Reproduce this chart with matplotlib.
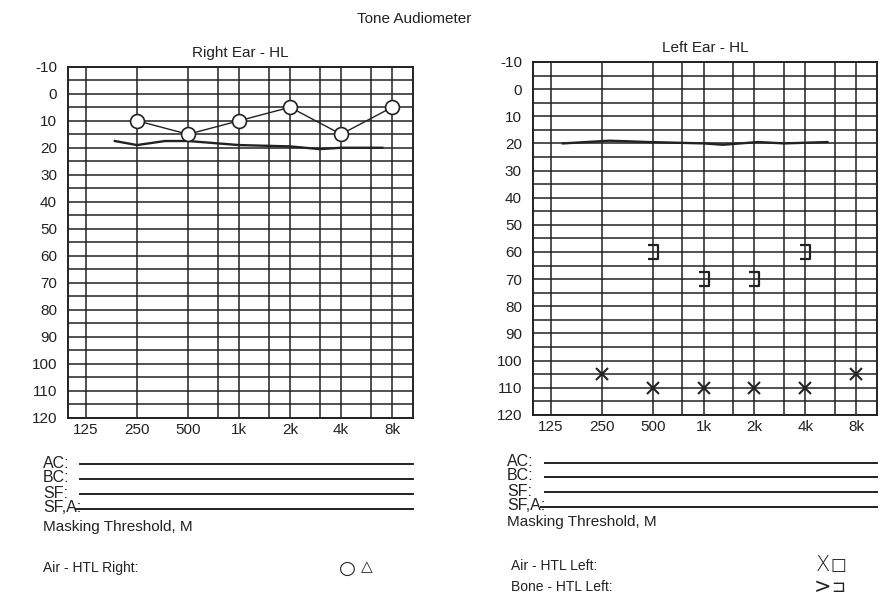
import numpy as np
import matplotlib
matplotlib.use("Agg")
from matplotlib import pyplot as plt
from matplotlib.path import Path

plt.rcParams['font.family'] = ['Liberation Sans', 'DejaVu Sans']

# grid frequencies and labels
grid_freqs = [125, 250, 500, 750, 1000, 1500, 2000, 3000, 4000, 6000, 8000]
octave_freqs = [125, 250, 500, 1000, 2000, 4000, 8000]
octave_labels = ["125", "250", "500", "1k", "2k", "4k", "8k"]
db_ticks = list(range(-10, 121, 10))

# right ear, air conduction (circles)
right_air_freqs = [250, 500, 1000, 2000, 4000, 8000]
right_air_db = [10, 15, 10, 5, 15, 5]
# hand drawn line, right ear
right_line_freqs = [185, 250, 366, 500, 1000, 2000, 3000, 4000, 7000]
right_line_db = [17.5, 19, 17.5, 17.5, 19, 19.5, 20.5, 20, 20]

# left ear, air conduction (X)
left_air_freqs = [250, 500, 1000, 2000, 4000, 8000]
left_air_db = [105, 110, 110, 110, 110, 105]
# left ear, masked bone conduction (])
left_bone_freqs = [500, 1000, 2000, 4000]
left_bone_db = [60, 70, 70, 60]
# hand drawn line, left ear
left_line_freqs = [147, 278, 475, 1000, 1300, 2100, 3000, 5400]
left_line_db = [20, 19, 19.5, 20, 20.5, 19.5, 20, 19.5]

ink = "#222222"

fig = plt.figure(figsize=(8.84, 5.96), dpi=100)

bracket = Path([(-0.7, 1), (0.7, 1), (0.7, -1), (-0.7, -1)],
               [Path.MOVETO, Path.LINETO, Path.LINETO, Path.LINETO])


def setup_audiogram(ax, title):
    ax.set_xscale("log", base=2)
    ax.set_xlim(98, 10600)
    ax.set_ylim(120, -10)
    ax.set_xticks(grid_freqs, minor=False)
    ax.set_xticklabels([octave_labels[octave_freqs.index(f)] if f in octave_freqs else ""
                        for f in grid_freqs])
    ax.xaxis.set_minor_locator(matplotlib.ticker.NullLocator())
    ax.set_yticks(range(-10, 121, 5))
    ax.set_yticklabels([str(v) if v in db_ticks else "" for v in range(-10, 121, 5)])
    ax.tick_params(length=0, labelsize=11, colors=ink)
    ax.tick_params(axis="y", pad=8)
    ax.tick_params(axis="x", pad=4)
    ax.grid(True, color=ink, linewidth=1.1)
    for s in ax.spines.values():
        s.set_color(ink)
        s.set_linewidth(1.4)
    ax.set_title(title, fontsize=11, color=ink, pad=7)


ax_r = fig.add_axes([0.077, 0.299, 0.390, 0.589])
setup_audiogram(ax_r, "Right Ear - HL")
ax_r.plot(right_line_freqs, right_line_db, color=ink, linewidth=1.7, zorder=3)
ax_r.plot(right_air_freqs, right_air_db, color=ink, linewidth=1.0, marker="o",
          markersize=10, markerfacecolor="white", markeredgecolor=ink,
          markeredgewidth=1.2, zorder=4)

ax_l = fig.add_axes([0.603, 0.304, 0.389, 0.592])
setup_audiogram(ax_l, "Left Ear - HL")
ax_l.plot(left_line_freqs, left_line_db, color=ink, linewidth=1.7, zorder=3)
ax_l.plot(left_air_freqs, left_air_db, linestyle="none", marker="x", markersize=9,
          markeredgecolor=ink, markeredgewidth=1.5, zorder=4)
ax_l.plot(left_bone_freqs, left_bone_db, linestyle="none", marker=bracket, markersize=10,
          markerfacecolor="none", markeredgecolor=ink, markeredgewidth=1.6, zorder=4)

fig.text(0.468, 0.968, "Tone Audiometer", ha="center", va="center", fontsize=11, color=ink)

# masking rows under the charts
rows = ["AC:", "BC:", "SF:", "SF,A:"]
W, H = 884, 596


def bottom_block(x_text, line_x0, line_x1, row_ys, mask_y):
    for label, y in zip(rows, row_ys):
        fig.text(x_text / W, 1 - y / H, label, ha="left", va="center", fontsize=11.5, color=ink)
        x0 = line_x0 if label != "SF,A:" else line_x0 - 4
        fig.add_artist(plt.Line2D([x0 / W, line_x1 / W], [1 - (y + 1) / H, 1 - (y + 1) / H],
                                  color=ink, linewidth=1.4))
    fig.text(x_text / W, 1 - mask_y / H, "Masking Threshold, M", ha="left", va="center",
             fontsize=11, color=ink)


bottom_block(43, 80, 413, [463, 478, 493, 508], 527)
bottom_block(507, 545, 877, [462, 476, 491, 506], 522)

fig.text(43 / W, 1 - 568 / H, "Air - HTL Right:", ha="left", va="center", fontsize=10, color=ink)
fig.text(347 / W, 1 - 568 / H, "○", ha="center", va="center", fontsize=14, color=ink,
         family="DejaVu Sans")
fig.text(367 / W, 1 - 567 / H, "△", ha="center", va="center", fontsize=11, color=ink,
         family="DejaVu Sans")

fig.text(511 / W, 1 - 566 / H, "Air - HTL Left:", ha="left", va="center", fontsize=10, color=ink)
fig.text(511 / W, 1 - 587 / H, "Bone - HTL Left:", ha="left", va="center", fontsize=10, color=ink)
fig.text(823 / W, 1 - 565 / H, "X", ha="center", va="center", fontsize=15, color=ink,
         family="DejaVu Sans", fontweight="light")
fig.text(838 / W, 1 - 565 / H, "□", ha="center", va="center", fontsize=12, color=ink,
         family="DejaVu Sans")
fig.text(823 / W, 1 - 587 / H, ">", ha="center", va="center", fontsize=15, color=ink,
         family="DejaVu Sans")
fig.text(838 / W, 1 - 587 / H, "⊐", ha="center", va="center", fontsize=12, color=ink,
         family="DejaVu Sans")

fig.savefig("out.png", dpi=100)
